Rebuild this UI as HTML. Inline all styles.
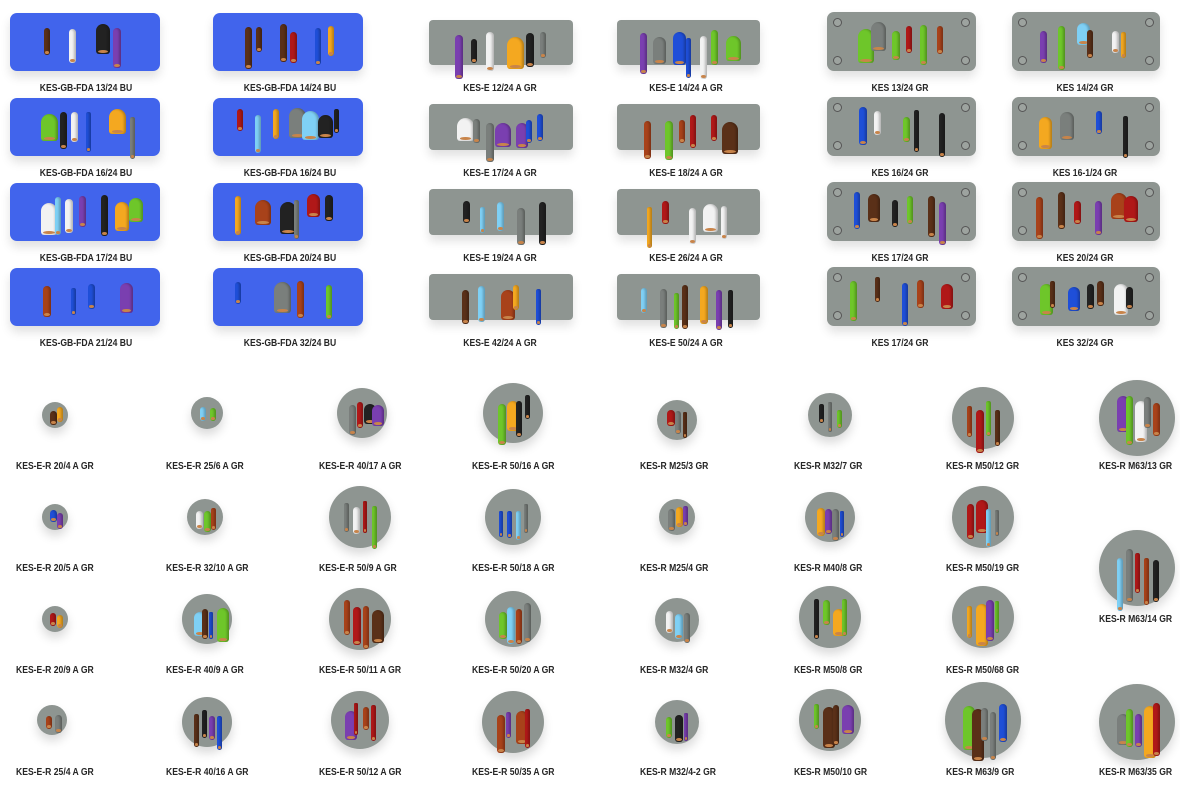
<!DOCTYPE html>
<html><head><meta charset="utf-8"><style>
*{margin:0;padding:0;box-sizing:border-box}
body{width:1180px;height:803px;background:#fff;position:relative;overflow:hidden;font-family:"Liberation Sans",sans-serif}
.p{position:absolute;border-radius:7px;box-shadow:0 6px 10px rgba(0,0,0,.12)}
.bu{background:#4164ec}
.gr{background:#8e9591}
.c{position:absolute;border-radius:50%;background:#8e9591;box-shadow:0 6px 10px rgba(0,0,0,.15)}
.l{position:absolute;font-size:10px;font-weight:bold;color:#262626;white-space:nowrap;transform:scaleX(.86);transform-origin:left center}
.lc{transform:translateX(-50%) scaleX(.86);transform-origin:center}
.k{position:absolute;border-radius:3px}
.k:after{content:"";position:absolute;left:15%;right:15%;bottom:1px;height:3px;border-radius:50%;background:#c8844a}
.sc{position:absolute;width:9px;height:9px;border-radius:50%;border:1.5px solid #555;background:#9da39f}
</style></head><body>

<div class="p bu" style="left:10px;top:13px;width:150px;height:58px"></div>
<div class="p bu" style="left:213px;top:13px;width:150px;height:58px"></div>
<div class="p bu" style="left:10px;top:98px;width:150px;height:58px"></div>
<div class="p bu" style="left:213px;top:98px;width:150px;height:58px"></div>
<div class="p bu" style="left:10px;top:183px;width:150px;height:58px"></div>
<div class="p bu" style="left:213px;top:183px;width:150px;height:58px"></div>
<div class="p bu" style="left:10px;top:268px;width:150px;height:58px"></div>
<div class="p bu" style="left:213px;top:268px;width:150px;height:58px"></div>

<div class="p gr" style="left:429px;top:20px;width:144px;height:45px;border-radius:4px"></div>
<div class="p gr" style="left:617px;top:20px;width:143px;height:45px;border-radius:4px"></div>
<div class="p gr" style="left:429px;top:104px;width:144px;height:46px;border-radius:4px"></div>
<div class="p gr" style="left:617px;top:104px;width:143px;height:46px;border-radius:4px"></div>
<div class="p gr" style="left:429px;top:189px;width:144px;height:46px;border-radius:4px"></div>
<div class="p gr" style="left:617px;top:189px;width:143px;height:46px;border-radius:4px"></div>
<div class="p gr" style="left:429px;top:274px;width:144px;height:46px;border-radius:4px"></div>
<div class="p gr" style="left:617px;top:274px;width:143px;height:46px;border-radius:4px"></div>

<div class="p gr" style="left:827px;top:12px;width:149px;height:59px"></div>
<div class="p gr" style="left:1012px;top:12px;width:148px;height:59px"></div>
<div class="p gr" style="left:827px;top:97px;width:149px;height:59px"></div>
<div class="p gr" style="left:1012px;top:97px;width:148px;height:59px"></div>
<div class="p gr" style="left:827px;top:182px;width:149px;height:59px"></div>
<div class="p gr" style="left:1012px;top:182px;width:148px;height:59px"></div>
<div class="p gr" style="left:827px;top:267px;width:149px;height:59px"></div>
<div class="p gr" style="left:1012px;top:267px;width:148px;height:59px"></div>

<div class="l lc" style="left:86px;top:83px">KES-GB-FDA 13/24 BU</div>
<div class="l lc" style="left:290px;top:83px">KES-GB-FDA 14/24 BU</div>
<div class="l lc" style="left:86px;top:168px">KES-GB-FDA 16/24 BU</div>
<div class="l lc" style="left:290px;top:168px">KES-GB-FDA 16/24 BU</div>
<div class="l lc" style="left:86px;top:253px">KES-GB-FDA 17/24 BU</div>
<div class="l lc" style="left:290px;top:253px">KES-GB-FDA 20/24 BU</div>
<div class="l lc" style="left:86px;top:338px">KES-GB-FDA 21/24 BU</div>
<div class="l lc" style="left:290px;top:338px">KES-GB-FDA 32/24 BU</div>

<div class="l lc" style="left:500px;top:83px">KES-E 12/24 A GR</div>
<div class="l lc" style="left:686px;top:83px">KES-E 14/24 A GR</div>
<div class="l lc" style="left:500px;top:168px">KES-E 17/24 A GR</div>
<div class="l lc" style="left:686px;top:168px">KES-E 18/24 A GR</div>
<div class="l lc" style="left:500px;top:253px">KES-E 19/24 A GR</div>
<div class="l lc" style="left:686px;top:253px">KES-E 26/24 A GR</div>
<div class="l lc" style="left:500px;top:338px">KES-E 42/24 A GR</div>
<div class="l lc" style="left:686px;top:338px">KES-E 50/24 A GR</div>

<div class="l lc" style="left:900px;top:83px">KES 13/24 GR</div>
<div class="l lc" style="left:1085px;top:83px">KES 14/24 GR</div>
<div class="l lc" style="left:900px;top:168px">KES 16/24 GR</div>
<div class="l lc" style="left:1085px;top:168px">KES 16-1/24 GR</div>
<div class="l lc" style="left:900px;top:253px">KES 17/24 GR</div>
<div class="l lc" style="left:1085px;top:253px">KES 20/24 GR</div>
<div class="l lc" style="left:900px;top:338px">KES 17/24 GR</div>
<div class="l lc" style="left:1085px;top:338px">KES 32/24 GR</div>

<div class="l" style="left:16px;top:461px">KES-E-R 20/4 A GR</div>
<div class="l" style="left:166px;top:461px">KES-E-R 25/6 A GR</div>
<div class="l" style="left:319px;top:461px">KES-E-R 40/17 A GR</div>
<div class="l" style="left:472px;top:461px">KES-E-R 50/16 A GR</div>
<div class="l" style="left:640px;top:461px">KES-R M25/3 GR</div>
<div class="l" style="left:794px;top:461px">KES-R M32/7 GR</div>
<div class="l" style="left:946px;top:461px">KES-R M50/12 GR</div>
<div class="l" style="left:1099px;top:461px">KES-R M63/13 GR</div>

<div class="l" style="left:16px;top:563px">KES-E-R 20/5 A GR</div>
<div class="l" style="left:166px;top:563px">KES-E-R 32/10 A GR</div>
<div class="l" style="left:319px;top:563px">KES-E-R 50/9 A GR</div>
<div class="l" style="left:472px;top:563px">KES-E-R 50/18 A GR</div>
<div class="l" style="left:640px;top:563px">KES-R M25/4 GR</div>
<div class="l" style="left:794px;top:563px">KES-R M40/8 GR</div>
<div class="l" style="left:946px;top:563px">KES-R M50/19 GR</div>
<div class="l" style="left:1099px;top:614px">KES-R M63/14 GR</div>

<div class="l" style="left:16px;top:665px">KES-E-R 20/9 A GR</div>
<div class="l" style="left:166px;top:665px">KES-E-R 40/9 A GR</div>
<div class="l" style="left:319px;top:665px">KES-E-R 50/11 A GR</div>
<div class="l" style="left:472px;top:665px">KES-E-R 50/20 A GR</div>
<div class="l" style="left:640px;top:665px">KES-R M32/4 GR</div>
<div class="l" style="left:794px;top:665px">KES-R M50/8 GR</div>
<div class="l" style="left:946px;top:665px">KES-R M50/68 GR</div>

<div class="l" style="left:16px;top:767px">KES-E-R 25/4 A GR</div>
<div class="l" style="left:166px;top:767px">KES-E-R 40/16 A GR</div>
<div class="l" style="left:319px;top:767px">KES-E-R 50/12 A GR</div>
<div class="l" style="left:472px;top:767px">KES-E-R 50/35 A GR</div>
<div class="l" style="left:640px;top:767px">KES-R M32/4-2 GR</div>
<div class="l" style="left:794px;top:767px">KES-R M50/10 GR</div>
<div class="l" style="left:946px;top:767px">KES-R M63/9 GR</div>
<div class="l" style="left:1099px;top:767px">KES-R M63/35 GR</div>

<script>
var seed=7;function R(){seed=(seed*16807)%2147483647;return (seed-1)/2147483646;}
var COLS=["#b01818","#1f4fd8","#7fd0f5","#5a3018","#a8421a","#f4a820","#6ec62a","#222","#f2f2f2","#7a7f7c","#7a3fb0"];
function cable(x,y,w,h,col){var d=document.createElement('div');d.className='k';d.style.cssText='left:'+x+'px;top:'+y+'px;width:'+w+'px;height:'+h+'px;background:'+col+';border-radius:'+(w/2)+'px '+(w/2)+'px 3px 3px;box-shadow:inset -2px 0 2px rgba(0,0,0,.25)';document.body.appendChild(d);}
var plates=[[10,13,150,58],[213,13,150,58],[10,98,150,58],[213,98,150,58],[10,183,150,58],[213,183,150,58],[10,268,150,58],[213,268,150,58],
[429,20,144,45],[617,20,143,45],[429,104,144,46],[617,104,143,46],[429,189,144,46],[617,189,143,46],[429,274,144,46],[617,274,143,46],
[827,12,149,59],[1012,12,148,59],[827,97,149,59],[1012,97,148,59],[827,182,149,59],[1012,182,148,59],[827,267,149,59],[1012,267,148,59]];
plates.forEach(function(p,i){
 var n=4+Math.floor(R()*4);
 if(i>=16){[[6,6],[p[2]-15,6],[6,p[3]-15],[p[2]-15,p[3]-15]].forEach(function(s){var d=document.createElement('div');d.className='sc';d.style.left=(p[0]+s[0])+'px';d.style.top=(p[1]+s[1])+'px';document.body.appendChild(d);});}
 var x0=p[0]+22,span=p[2]-44;
 for(var j=0;j<n;j++){
  var big=R()<0.25;var w=big?12+R()*5:5+R()*3;
  var h=big?22+R()*12:22+R()*22;
  var x=x0+span*(j+R()*0.6)/n;
  var y=p[1]+10+R()*10;
  cable(Math.round(x),Math.round(y),Math.round(w),Math.round(h),COLS[Math.floor(R()*COLS.length)]);
 }
});
var circ=[[55,415,13],[207,413,16],[362,413,25],[513,413,30],[677,420,20],[830,415,22],[983,418,31],[1137,418,38],
[55,517,13],[205,517,18],[360,517,31],[513,517,28],[677,517,18],[830,517,25],[983,517,31],[1137,568,38],
[55,619,13],[207,619,25],[360,619,31],[513,619,28],[677,620,22],[830,617,31],[983,617,31],
[52,720,15],[207,722,25],[360,720,29],[513,722,31],[677,722,22],[830,720,31],[983,720,38],[1137,722,38]];
circ.forEach(function(c){
 var d=document.createElement('div');d.className='c';d.style.cssText='left:'+(c[0]-c[2])+'px;top:'+(c[1]-c[2])+'px;width:'+(2*c[2])+'px;height:'+(2*c[2])+'px';document.body.appendChild(d);
 var n=Math.max(1,Math.round(c[2]/7));
 for(var j=0;j<n;j++){
  var w=4+R()*4;if(R()<0.2&&c[2]>24)w=12;
  var h=c[2]*0.8+R()*c[2]*0.6;
  var x=c[0]-c[2]*0.6+(1.2*c[2])*(j+0.3)/n;
  var y=c[1]-c[2]*0.6+R()*c[2]*0.4;
  cable(Math.round(x),Math.round(y),Math.round(w),Math.round(h),COLS[Math.floor(R()*COLS.length)]);
 }
});
</script>
</body></html>
